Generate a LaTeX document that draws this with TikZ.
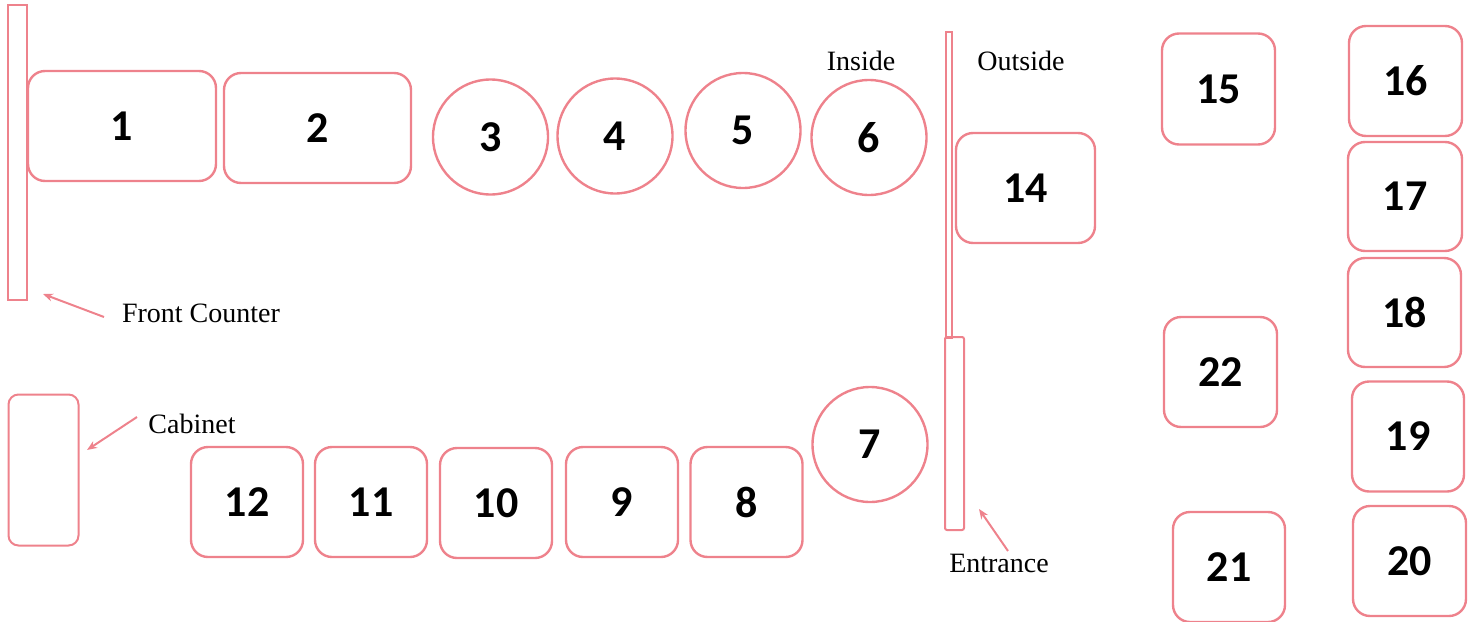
\documentclass[tikz,border=0pt]{standalone}
\usepackage{fontspec}
\setmainfont{Liberation Serif}
\newfontfamily\numfont{Carlito}
\usetikzlibrary{arrows.meta}
\definecolor{pinkline}{RGB}{238,130,140}
\tikzset{
  tbl/.style={draw=pinkline, line width=1.2pt, rounded corners=8.5pt, minimum width=56pt, minimum height=55pt, inner sep=0pt, font=\numfont\bfseries\fontsize{22}{24}\selectfont},
  rtbl/.style={draw=pinkline, line width=1.2pt, circle, minimum size=57.5pt, inner sep=0pt, font=\numfont\bfseries\fontsize{22}{24}\selectfont},
  wall/.style={draw=pinkline, line width=1pt, inner sep=0pt},
  lbl/.style={font=\fontsize{14}{16}\selectfont, inner sep=0pt},
  pointer/.style={draw=pinkline, line width=1pt, -{Stealth[length=5pt,width=4pt]}}
}
\begin{document}
\begin{tikzpicture}[x=0.5pt, y=-0.5pt]
\useasboundingbox (0,0) rectangle (1472,621);
% walls / counters
\node[wall, minimum width=9.5pt, minimum height=147.5pt] (counter) at (17,152) {};
\node[wall, rounded corners=5pt, minimum width=35pt, minimum height=75.5pt] (cabinet) at (43.5,470) {};
\node[wall, minimum width=3pt, minimum height=153pt] (divider) at (948.5,185) {};
\node[wall, rounded corners=1pt, minimum width=9.5pt, minimum height=96.5pt] (entrance) at (954.5,433.5) {};
% top row
\node[tbl, minimum width=94pt] (t1) at (122,126) {1};
\node[tbl, minimum width=93.5pt] (t2) at (317.5,128) {2};
\node[rtbl] (t3) at (490.5,137) {3};
\node[rtbl] (t4) at (615,136) {4};
\node[rtbl] (t5) at (743,130.5) {5};
\node[rtbl] (t6) at (869,137.5) {6};
% bottom row
\node[rtbl] (t7) at (870,444.5) {7};
\node[tbl] (t8) at (746.5,502) {8};
\node[tbl] (t9) at (622,502) {9};
\node[tbl] (t10) at (496,503) {10};
\node[tbl] (t11) at (371,502) {11};
\node[tbl] (t12) at (247,502) {12};
% outside
\node[tbl, minimum width=69.5pt] (t14) at (1025.5,188) {14};
\node[tbl, minimum width=56.5pt, minimum height=55.5pt] (t15) at (1218.5,89) {15};
\node[tbl, minimum width=56.5pt] (t16) at (1405.5,81) {16};
\node[tbl, minimum width=57pt, minimum height=54.5pt] (t17) at (1405,196.5) {17};
\node[tbl, minimum width=56.5pt, minimum height=54.5pt] (t18) at (1404.5,312.5) {18};
\node[tbl] (t19) at (1408,436.5) {19};
\node[tbl, minimum width=56.5pt] (t20) at (1409.5,561) {20};
\node[tbl] (t21) at (1229,567) {21};
\node[tbl, minimum width=56.5pt] (t22) at (1220.5,372) {22};
% labels
\node[lbl] (lfront) at (201,313) {Front Counter};
\node[lbl] (lcab) at (192,424) {Cabinet};
\node[lbl] (lin) at (861,61) {Inside};
\node[lbl] (lout) at (1021,61) {Outside};
\node[lbl] (lent) at (999,563) {Entrance};
% pointers
\coordinate (fa) at (104,317);
\coordinate (fb) at (43,294);
\coordinate (ca) at (137,417);
\coordinate (cb) at (87,450);
\coordinate (ea) at (1008,551);
\coordinate (eb) at (979,509);
\draw[pointer] (fa) -- (fb);
\draw[pointer] (ca) -- (cb);
\draw[pointer] (ea) -- (eb);
\end{tikzpicture}
\end{document}
